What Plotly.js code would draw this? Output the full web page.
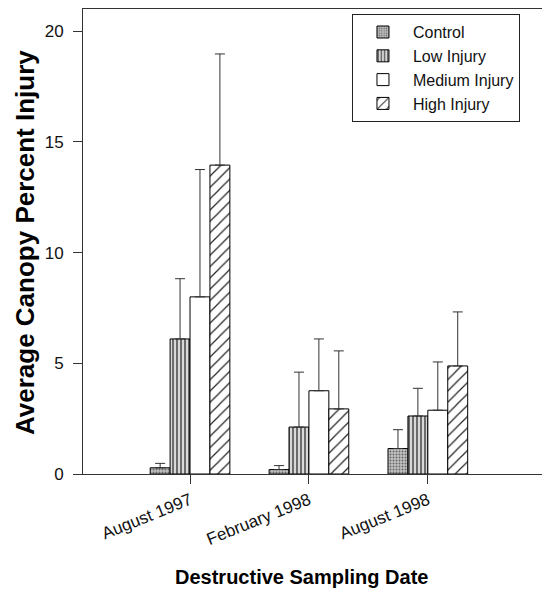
<!DOCTYPE html>
<html>
<head>
<meta charset="utf-8">
<script src="https://cdn.plot.ly/plotly-3.0.1.min.js"></script>
<style>html,body{margin:0;padding:0;background:#fff;}#chart{width:542px;height:592px;}</style>
</head>
<body>
<div id="chart"></div>
<script>
const dates = ["August 1997", "February 1998", "August 1998"];
const seriesNames = ["Control", "Low Injury", "Medium Injury", "High Injury"];
const controlVals = [0.28, 0.2, 1.15];
const controlErr = [0.2, 0.18, 0.85];
const lowVals = [6.1, 2.12, 2.62];
const lowErr = [2.72, 2.48, 1.25];
const mediumVals = [8.0, 3.76, 2.88];
const mediumErr = [5.75, 2.34, 2.18];
const highVals = [13.95, 2.94, 4.88];
const highErr = [5.02, 2.62, 2.44];
const yTicks = [0, 5, 10, 15, 20];

const patterns = [
  {shape: ".", fgcolor: "#666", bgcolor: "#c4c4c4", size: 3, solidity: 0.35},
  {shape: "|", fgcolor: "#222", bgcolor: "#d8d8d8", size: 4, solidity: 0.3},
  {shape: "", fgcolor: "#000", bgcolor: "#fff"},
  {shape: "/", fgcolor: "#222", bgcolor: "#fff", size: 8, solidity: 0.15}
];
const vals = [controlVals, lowVals, mediumVals, highVals];
const errs = [controlErr, lowErr, mediumErr, highErr];

const traces = seriesNames.map((name, i) => ({
  type: "bar",
  name: name,
  x: dates,
  y: vals[i],
  marker: {color: "#fff", pattern: patterns[i], line: {color: "#000", width: 1}},
  error_y: {type: "data", symmetric: false, array: errs[i], arrayminus: [0, 0, 0],
            color: "#333", thickness: 1, width: 5}
}));

const FONT = "Arial, 'Liberation Sans', Helvetica, sans-serif";
const layout = {
  width: 542, height: 592,
  margin: {l: 83, r: 0, t: 9, b: 118},
  paper_bgcolor: "#fff", plot_bgcolor: "#fff",
  barmode: "group", bargap: 0.33, bargroupgap: 0,
  font: {family: FONT, color: "#111"},
  showlegend: true,
  legend: {x: 0.586, y: 0.989, xanchor: "left", yanchor: "top",
           bordercolor: "#222", borderwidth: 1, bgcolor: "#fff",
           font: {size: 16, family: FONT},
           itemwidth: 50, tracegroupgap: 0},
  xaxis: {
    type: "category", range: [-0.9, 2.96],
    showline: true, linecolor: "#333", linewidth: 1, mirror: true,
    ticks: "outside", ticklen: 9, tickcolor: "#333",
    tickangle: -22, tickfont: {size: 17},
    showgrid: false, zeroline: false
  },
  yaxis: {
    range: [0, 21], tickvals: yTicks,
    showline: true, linecolor: "#333", linewidth: 1,
    ticks: "outside", ticklen: 9, tickcolor: "#333", ticklabelstandoff: 6,
    tickfont: {size: 17}, showgrid: false, zeroline: false
  },
  annotations: [
    {text: "<b>Average Canopy Percent Injury</b>", xref: "paper", yref: "paper",
     x: -0.126, y: 0.497, xanchor: "center", yanchor: "middle", textangle: -90,
     showarrow: false, font: {size: 26, family: FONT, color: "#000"}},
    {text: "<b>Destructive Sampling Date</b>", xref: "paper", yref: "paper",
     x: 0.475, y: -0.2215, xanchor: "center", yanchor: "middle",
     showarrow: false, font: {size: 20, family: FONT, color: "#000"}}
  ]
};

Plotly.newPlot("chart", traces, layout, {displayModeBar: false, staticPlot: true});
</script>
</body>
</html>
